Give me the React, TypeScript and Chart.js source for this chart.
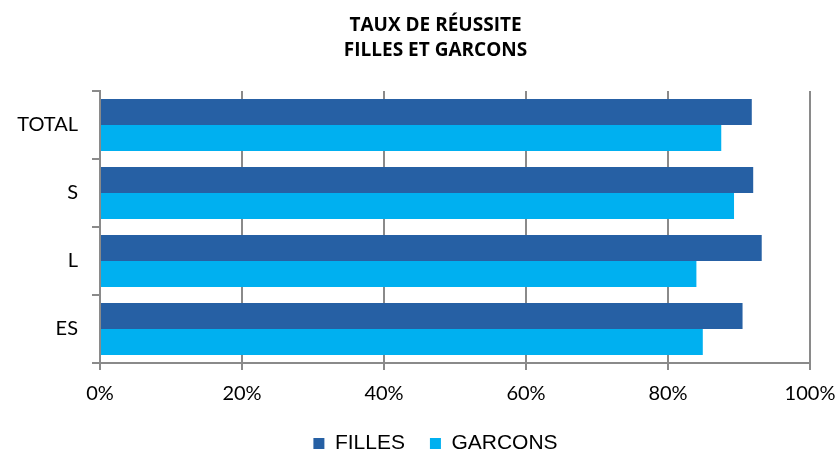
import React, { useEffect, useRef } from "react";
import { Chart, registerables } from "chart.js";

Chart.register(...registerables);

const categories = ["TOTAL", "S", "L", "ES"];
const filles = [91.8, 92.0, 93.2, 90.5];
const garcons = [87.5, 89.3, 84.0, 84.9];
const titleLines = ["TAUX DE RÉUSSITE", "FILLES ET GARCONS"];
const seriesNames = ["FILLES", "GARCONS"];

const shiftPlugin = {
  id: "shiftBlocks",
  afterLayout(chart: any) {
    if (chart.titleBlock) {
      chart.titleBlock.left += 31;
    }
    if (chart.legend) {
      chart.legend.left += 31;
      chart.legend.top += 13;
      chart.legend.bottom += 13;
    }
    if (chart.scales && chart.scales.x) {
      chart.scales.x.bottom = chart.height;
    }
  },
};

export default function App() {
  const ref = useRef<HTMLCanvasElement | null>(null);
  useEffect(() => {
    if (!ref.current) return;
    const grid = "#8a8a8a";
    const chart = new Chart(ref.current, {
      type: "bar",
      data: {
        labels: categories,
        datasets: [
          { label: seriesNames[0], data: filles, backgroundColor: "#2660A4", categoryPercentage: 0.765, barPercentage: 1 },
          { label: seriesNames[1], data: garcons, backgroundColor: "#00B0F0", categoryPercentage: 0.765, barPercentage: 1 },
        ],
      },
      plugins: [shiftPlugin],
      options: {
        indexAxis: "y",
        animation: false,
        responsive: false,
        devicePixelRatio: 1,
        layout: { padding: { left: 0, right: 0, top: 0, bottom: 0 } },
        plugins: {
          tooltip: { enabled: false },
          title: {
            display: true,
            text: titleLines,
            color: "#000",
            font: { family: "'Open Sans'", size: 19, weight: "bold", lineHeight: 1.316 },
            padding: { top: 13.5, bottom: 27.5 },
          },
          legend: {
            position: "bottom",
            labels: {
              color: "#000",
              font: { family: "'Liberation Sans'", size: 21 },
              boxWidth: 11,
              boxHeight: 11,
              padding: 25,
            },
          },
        },
        scales: {
          x: {
            min: 0,
            max: 100,
            ticks: { stepSize: 20, callback: (v: any) => `${v}%`, color: "#000", font: { family: "Lato", size: 20 }, padding: 12 },
            grid: { color: grid, lineWidth: 2, tickLength: 7 },
            border: { color: grid, width: 2 },
            afterFit: (s: any) => { s.height = 32; s.paddingRight = 30; s.paddingLeft = 0; },
          },
          y: {
            ticks: { color: "#000", font: { family: "Lato", size: 20 }, padding: 14 },
            grid: { color: grid, lineWidth: 2, tickLength: 8, drawOnChartArea: false, offset: true },
            border: { color: grid, width: 2 },
            afterFit: (s: any) => { s.width = 100; s.paddingTop = 0; s.paddingBottom = 0; },
          },
        },
      },
    });
    return () => chart.destroy();
  }, []);
  return (
    <div style={{ position: "absolute", left: 0, top: 0, width: 840, height: 451, background: "#fff" }}>
      <canvas ref={ref} width={840} height={451} style={{ width: 840, height: 451, display: "block" }} />
    </div>
  );
}
